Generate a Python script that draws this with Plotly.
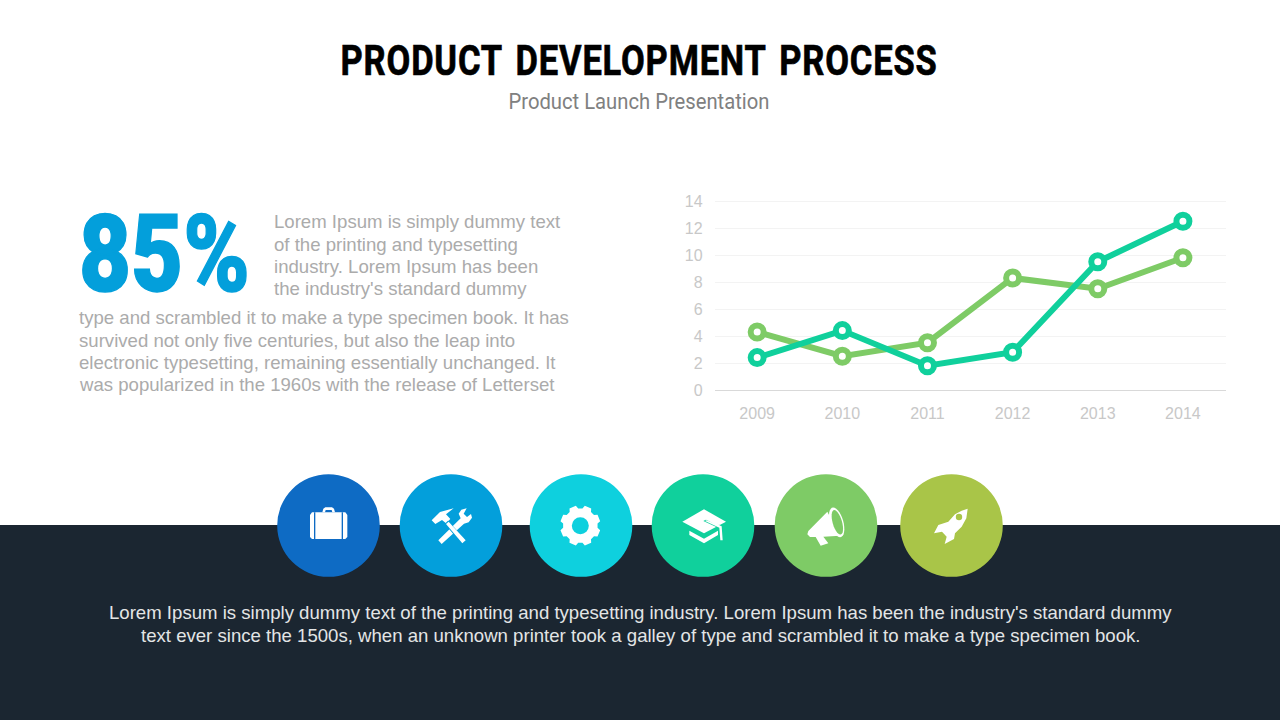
import numpy as np
import plotly.graph_objects as go

years = ["2009", "2010", "2011", "2012", "2013", "2014"]
series_green = [4.3, 2.5, 3.5, 8.3, 7.5, 9.8]
series_teal = [2.4, 4.4, 1.8, 2.8, 9.5, 12.5]
y_ticks = [0, 2, 4, 6, 8, 10, 12, 14]

title_text = "PRODUCT DEVELOPMENT PROCESS"
subtitle_text = "Product Launch Presentation"
big_number = "85%"
left_lines_short = ["Lorem Ipsum is simply dummy text", "of the printing and typesetting",
                    "industry. Lorem Ipsum has been", "the industry's standard dummy"]
left_lines_long = ["type and scrambled it to make a type specimen book. It has",
                   "survived not only five centuries, but also the leap into",
                   "electronic typesetting, remaining essentially unchanged. It",
                   "was popularized in the 1960s with the release of Letterset"]
bottom_lines = ["Lorem Ipsum is simply dummy text of the printing and typesetting industry. Lorem Ipsum has been the industry's standard dummy",
                "text ever since the 1500s, when an unknown printer took a galley of type and scrambled it to make a type specimen book."]

GREEN, TEAL = "#7ECB66", "#10D09C"
DARK = "#1B2631"
circle_x = [328.5, 451, 581, 703, 826, 951.5]
circle_colors = ["#0E6BC4", "#039FDB", "#0ED0DE", "#10D09C", "#7ECB66", "#A9C548"]
CY, R = 525.5, 51.3
WHITE = "#FFFFFF"

shapes = []


def page(kind, **kw):
    shapes.append(dict(type=kind, xref="x2", yref="y2", layer="below", line=dict(width=0), **kw))


def poly(points, ox, oy, color=WHITE):
    """Outline given in 3x crop coordinates around origin (ox, oy)."""
    d = "M" + " L".join(f"{ox + x / 3:.2f},{oy + y / 3:.2f}" for x, y in points) + " Z"
    page("path", path=d, fillcolor=color)


def disc(x, y, r, color):
    page("circle", x0=x - r, x1=x + r, y0=y - r, y1=y + r, fillcolor=color)


def ellipse_pts(cx, cy, rx, ry, rot, n=30):
    t = np.linspace(0, 2 * np.pi, n, endpoint=False)
    c, s = np.cos(rot), np.sin(rot)
    return [(cx + rx * np.cos(a) * c - ry * np.sin(a) * s, cy + rx * np.cos(a) * s + ry * np.sin(a) * c) for a in t]


page("rect", x0=0, x1=1280, y0=525, y1=720, fillcolor=DARK)
for cx, col in zip(circle_x, circle_colors):
    disc(cx, CY, R, col)

# briefcase
O = (270, 465)
poly([(120, 150), (126, 142), (226, 142), (232, 150), (232, 216), (226, 222), (126, 222), (120, 216)], *O)
poly([(157, 142), (160, 131), (166, 127), (186, 127), (192, 131), (195, 142), (187, 142), (185, 135), (167, 135), (165, 142)], *O)
poly([(132, 142), (136, 142), (136, 222), (132, 222)], *O, circle_colors[0])
poly([(215, 142), (219, 142), (219, 222), (215, 222)], *O, circle_colors[0])

# hammer and wrench
poly([(505, 226), (572, 160), (566, 146), (574, 134), (590, 130), (581, 146), (591, 156), (603, 147), (606, 158), (596, 172), (582, 176), (515, 237)], *O)
poly([(485, 166), (510, 141), (551, 130), (528, 148), (543, 163), (530, 178), (516, 168), (496, 178)], *O, circle_colors[1])
poly([(485, 166), (510, 141), (551, 130), (528, 148), (541, 162), (528, 175), (516, 165), (496, 177)], *O)
poly([(524, 177), (534, 167), (588, 226), (576, 237)], *O, circle_colors[1])
poly([(528, 177), (536, 170), (587, 226), (577, 235)], *O)

# gear
gx, gy = 931, 182
gear = []
for k in range(8):
    a = k * np.pi / 4 - np.pi / 8
    for da, rr in [(-0.27, 52), (-0.17, 61), (0.17, 61), (0.27, 52)]:
        gear.append((gx + rr * np.cos(a + da), gy + rr * np.sin(a + da)))
poly(gear, *O)
disc(270 + gx / 3, 465 + gy / 3, 8.5, circle_colors[2])

# graduation cap
O2 = (640, 465)
poly([(127, 170), (192, 133), (258, 170), (192, 205)], *O2)
poly([(148, 197), (192, 221), (234, 197), (234, 210), (192, 235), (148, 210)], *O2)
poly([(190, 168), (200, 163), (247, 183), (249, 226), (239, 226), (237, 190)], *O2, circle_colors[3])
poly([(195, 168), (200, 166), (245, 184), (248, 226), (241, 226), (238, 188)], *O2)
poly([(190, 160), (210, 160), (240, 180), (236, 184)], *O2, WHITE)

# megaphone
poly([(505, 198), (562, 140), (600, 212), (550, 215), (565, 235), (542, 242), (527, 216), (510, 216), (502, 208)], *O2)
poly(ellipse_pts(590, 172, 20, 46, -0.28), *O2)
poly(ellipse_pts(592, 172, 14, 38, -0.28), *O2, circle_colors[4])

# rocket
poly([(983, 131), (979, 160), (965, 185), (945, 205), (942, 222), (914, 237), (920, 215), (906, 200), (882, 205),
      (895, 180), (925, 170), (945, 148), (965, 137)], *O2)
disc(640 + 957 / 3, 465 + 156 / 3, 3.2, circle_colors[5])

fig = go.Figure()
fig.add_trace(go.Scatter(x=[0, 1280], y=[0, 720], xaxis="x2", yaxis="y2", mode="markers",
                         marker=dict(opacity=0), hoverinfo="skip", showlegend=False))
for name, vals, col in [("Series 1", series_green, GREEN), ("Series 2", series_teal, TEAL)]:
    fig.add_trace(go.Scatter(x=years, y=vals, name=name, mode="lines+markers", showlegend=False,
                             line=dict(color=col, width=6),
                             marker=dict(size=13, color=WHITE, line=dict(color=col, width=6))))

notes = []


def text(x, y, s, size, color, family="Liberation Sans", anchor="left", weight=None):
    notes.append(dict(xref="x2", yref="y2", x=x, y=y, text=s, showarrow=False,
                      xanchor=anchor, yanchor="middle", align=anchor, borderpad=0,
                      font=dict(size=size, color=color, family=family, weight=weight or 400)))


HEAD = "Roboto"
BODY = "#ABABAB"
LEFT_SHORT_Y = [221, 244, 266, 288]
LEFT_LONG_Y = [317, 340, 362, 384]
text(638.5, 60, title_text, 42, "#000000", HEAD, "center", 700)
text(638.5, 101, subtitle_text, 22, "#808080", HEAD, "center")
text(78, 254, big_number, 108, "#039FDB", HEAD, "left", 900)
for y, s in zip(LEFT_SHORT_Y, left_lines_short):
    text(273, y, s, 18.6, BODY)
for y, s in zip(LEFT_LONG_Y, left_lines_long):
    text(78, y, s, 18.6, BODY)
for i, s in enumerate(bottom_lines):
    text(640, 612 + i * 23, s, 18.6, "#E3E5E6", anchor="center")

Y_TOP = 14.1  # a hair above the top tick so that its gridline is kept
PX_PER_UNIT = 13.5
fig.update_layout(
    template="none",
    width=1280, height=720, margin=dict(l=0, r=0, t=0, b=0, pad=0), autosize=False,
    paper_bgcolor=WHITE, plot_bgcolor="rgba(0,0,0,0)", shapes=shapes, annotations=notes,
    font=dict(family="Liberation Sans"),
    xaxis=dict(domain=[714.6 / 1280, 1225.5 / 1280], anchor="y", type="category", range=[-0.5, 5.5],
               automargin=False, showgrid=False, showline=False, zeroline=False, ticks="", ticklabelstandoff=12,
               tickfont=dict(size=16, color="#C8C8C8")),
    yaxis=dict(domain=[(720 - 390) / 720, (720 - 390 + Y_TOP * PX_PER_UNIT) / 720], anchor="x", range=[0, Y_TOP],
               tickvals=y_ticks, automargin=False, showgrid=True, gridcolor="#F3F3F3", gridwidth=1, zeroline=True,
               zerolinecolor="#D9D9D9", zerolinewidth=1, showline=False, ticks="", ticklabelstandoff=11,
               tickfont=dict(size=16, color="#C8C8C8")),
    xaxis2=dict(domain=[0, 1], range=[0, 1280], anchor="y2", visible=False, fixedrange=True, automargin=False),
    yaxis2=dict(domain=[0, 1], range=[720, 0], anchor="x2", visible=False, fixedrange=True, automargin=False),
)

# Condensed headline lettering: no condensed face is installed, so fit the heads to their widths.
post = """
document.body.style.margin='0';document.documentElement.style.overflow='hidden';
var widths={'PRODUCT DEVELOPMENT PROCESS':597,'Product Launch Presentation':261,'85%':171};
var spacing={'PRODUCT DEVELOPMENT PROCESS':['1px','5px','#000000','0.7px'],'85%':['0px','0px','#039FDB','1.4px']};
document.querySelectorAll('.annotation-text').forEach(function(t){
  var key=t.textContent, w=widths[key], sp=spacing[key];
  if(w){
    if(sp){t.style.letterSpacing=sp[0];t.style.wordSpacing=sp[1];t.style.stroke=sp[2];t.style.strokeWidth=sp[3];}
    t.setAttribute('textLength',w);t.setAttribute('lengthAdjust','spacingAndGlyphs');
    t.querySelectorAll('tspan').forEach(function(s){s.setAttribute('textLength',w);s.setAttribute('lengthAdjust','spacingAndGlyphs');});
  }
});
"""
fig.write_html("out.html", config=dict(displayModeBar=False), post_script=post)
